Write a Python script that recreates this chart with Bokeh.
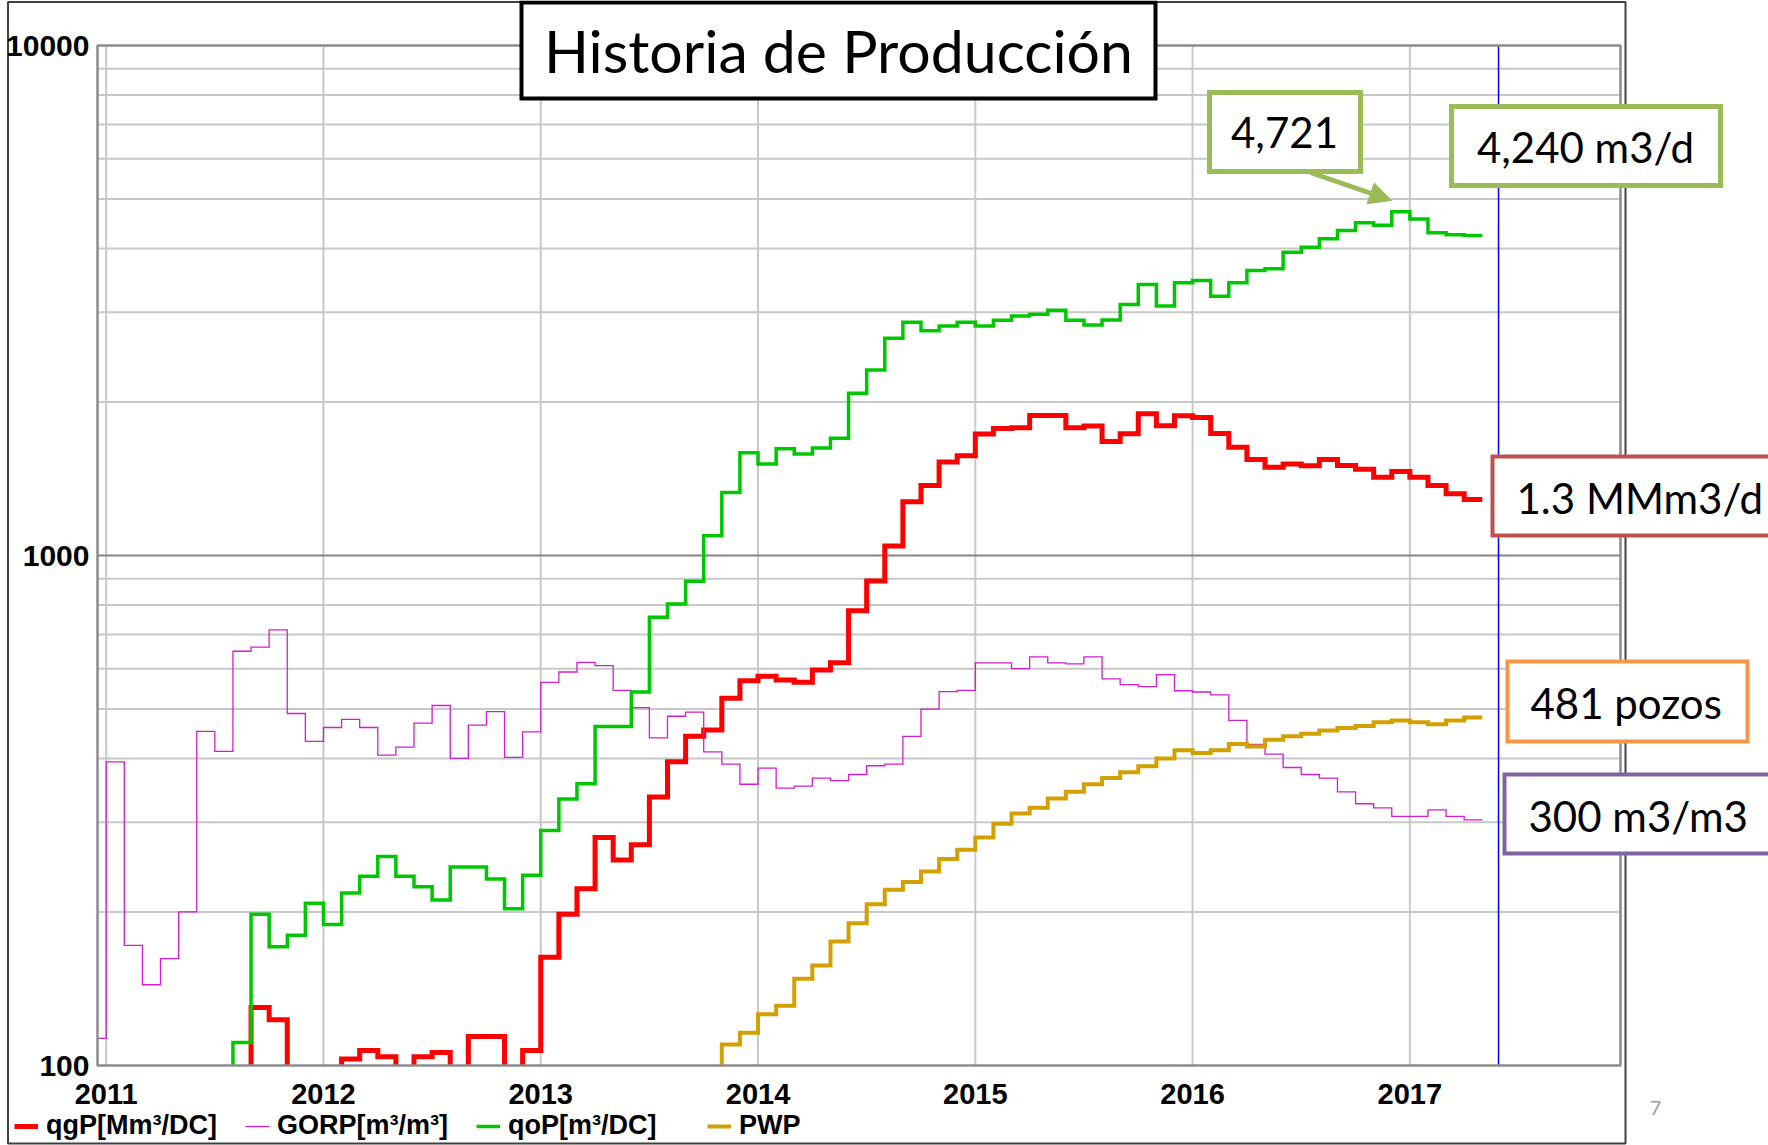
import pandas as pd
from bokeh.plotting import figure
from bokeh.models import (Range1d, FixedTicker, Label, BoxAnnotation, Arrow, NormalHead,
                          Legend, LegendItem, PrintfTickFormatter, LinearAxis, LogAxis)
from bokeh.embed import file_html
from bokeh.resources import INLINE

# ---------------- data (monthly, Dec-2010 .. Apr-2017) ----------------
months = pd.date_range("2010-12-01", "2017-04-01", freq="MS")
nan = float("nan")

# GORP [m3/m3]
gorp = [113,
        394, 172, 144, 162, 200, 452, 413, 649, 661, 715, 490, 432,
        460, 477, 460, 406, 421, 469, 508, 400, 465, 494, 402, 451,
        564, 591, 617, 608, 544, 503, 439, 484, 493, 412, 390, 356,
        383, 350, 353, 366, 362, 372, 387, 390, 442, 500, 541, 544,
        616, 616, 600, 633, 616, 613, 633, 573, 558, 553, 584, 543,
        540, 533, 475, 426, 408, 384, 372, 366, 344, 326, 320, 308,
        308, 317, 308, 303]

# qgP [Mm3/DC]  (values under 100 fall below the chart)
qgp = [nan,
       nan, nan, nan, nan, nan, nan, nan, 60, 130, 123, 60, 60,
       60, 103, 107, 104, 60, 104, 106, 60, 114, 114, 60, 107,
       163, 198, 222, 280, 253, 271, 336, 394, 442, 455, 525, 568,
       580, 570, 564, 596, 616, 779, 891, 1044, 1275, 1371, 1526, 1568,
       1731, 1774, 1780, 1881, 1881, 1780, 1795, 1673, 1732, 1896, 1796, 1879,
       1865, 1734, 1631, 1542, 1489, 1512, 1500, 1542, 1502, 1476, 1424, 1461,
       1424, 1371, 1321, 1288]

# qoP [m3/DC]
qop = [nan,
       nan, nan, nan, nan, nan, nan, 60, 111, 198, 171, 180, 208,
       189, 218, 235, 257, 235, 224, 211, 245, 245, 232, 203, 236,
       289, 333, 357, 462, 462, 540, 757, 803, 890, 1093, 1329, 1591,
       1512, 1620, 1582, 1624, 1698, 2080, 2310, 2667, 2867, 2760, 2818, 2867,
       2818, 2891, 2947, 2972, 3026, 2891, 2830, 2895, 3105, 3400, 3083, 3425,
       3461, 3225, 3425, 3622, 3648, 3933, 4023, 4178, 4337, 4490, 4441, 4721,
       4571, 4292, 4254, 4240]

# PWP (producing wells)
pwp = [nan,
       nan, nan, nan, nan, nan, nan, nan, nan, nan, nan, nan, nan,
       nan, nan, nan, nan, nan, nan, nan, nan, nan, nan, nan, nan,
       nan, nan, nan, nan, nan, nan, nan, nan, nan, 60, 110, 116,
       126, 131, 148, 157, 175, 190, 207, 221, 229, 240, 254, 265,
       280, 298, 312, 320, 334, 344, 356, 366, 376, 386, 400, 415,
       410, 415, 427, 422, 435, 442, 447, 454, 459, 463, 471, 475,
       471, 467, 475, 481]

series_labels = ["qgP[Mm³/DC]", "GORP[m³/m³]", "qoP[m³/DC]", "PWP"]
series_colors = ["#FF0000", "#D21ED2", "#00C800", "#D4A000"]
series_widths = [5, 1.3, 3.5, 4]

year_ticks = [2011, 2012, 2013, 2014, 2015, 2016, 2017]
y_major = [100, 1000, 10000]
y_minor = [200, 300, 400, 500, 600, 700, 800, 900,
           2000, 3000, 4000, 5000, 6000, 7000, 8000, 9000]
current_date = 2017.408

title_text = "Historia de Producción"
callouts = ["4,721", "4,240 m3/d", "1.3 MMm3/d", "481 pozos", "300 m3/m3"]

# ---------------- geometry (canvas pixels) ----------------
CW, CH = 1768, 1145
PL, PR, PT, PB = 97, 1620, 45, 1065          # plot area
X0, YLO, YHI = 2010.96, 100, 10000
X1 = X0 + (PR - PL) / 217.28


def px2x(px):
    return X0 + (px - PL) * (X1 - X0) / (PR - PL)


def py2y(py):
    return 10 ** (4 - (py - PT) * 2.0 / (PB - PT))


t = list(months.year + (months.month - 1) / 12.0)
t_end = t[-1] + 1 / 12.0

p = figure(width=CW, height=CH, x_range=Range1d(px2x(0), px2x(CW)),
           y_range=Range1d(py2y(CH), py2y(0)), y_axis_type="log",
           x_axis_location=None, y_axis_location=None,
           output_backend="svg", toolbar_location=None, min_border=0)
p.background_fill_color = "white"
p.border_fill_color = "white"
p.outline_line_color = None
for g in p.grid:
    g.visible = False

# grid lines of the plot area
p.segment(x0=year_ticks, x1=year_ticks, y0=[YLO] * len(year_ticks), y1=[YHI] * len(year_ticks),
          line_color="#C8C8C8", line_width=2)
p.segment(x0=[X0] * len(y_minor), x1=[X1] * len(y_minor), y0=y_minor, y1=y_minor,
          line_color="#C8C8C8", line_width=2)
p.segment(x0=[X0], x1=[X1], y0=[1000], y1=[1000], line_color="#858585", line_width=2)

# series (monthly steps)
renderers = []
for vals, col, lw in zip([qgp, gorp, qop, pwp], series_colors, series_widths):
    xs, ys = [], []
    for ti, v in zip(t, vals):
        if v == v:
            xs.append(ti)
            ys.append(v)
    xs.append(t_end)
    ys.append(ys[-1])
    r = p.step(xs, ys, mode="after", line_color=col, line_width=lw, line_join="miter")
    renderers.append(r)

# current-date line
p.segment(x0=[current_date], x1=[current_date], y0=[YLO], y1=[YHI], line_color="#0000FF", line_width=1.5)

# white masks outside the plot area (the chart clips its curves there)
p.quad(left=[px2x(-20)], right=[px2x(CW + 20)], bottom=[py2y(CH + 50)], top=[YLO],
       fill_color="white", line_color=None)
p.quad(left=[px2x(-20)], right=[X0], bottom=[py2y(CH + 50)], top=[py2y(-50)],
       fill_color="white", line_color=None)

# plot-area border and outer picture frame
p.quad(left=[X0], right=[X1], bottom=[YLO], top=[YHI], fill_color=None,
       line_color="#8C8C8C", line_width=2.5)
p.quad(left=[px2x(7.5)], right=[px2x(1625)], bottom=[py2y(1143)], top=[py2y(1.5)],
       fill_color=None, line_color="#404040", line_width=2)

# axes at the plot-area edges
yaxis = LogAxis(fixed_location=X0, ticker=FixedTicker(ticks=y_major, minor_ticks=[]),
                formatter=PrintfTickFormatter(format="%d"))
xaxis = LinearAxis(fixed_location=YLO, ticker=FixedTicker(ticks=year_ticks, minor_ticks=[]),
                   formatter=PrintfTickFormatter(format="%d"))
for ax in (xaxis, yaxis):
    ax.axis_line_color = None
    ax.major_tick_line_color = None
    ax.minor_tick_line_color = None
    ax.major_label_text_font = "Liberation Sans"
    ax.major_label_text_font_style = "bold"
    ax.major_label_text_color = "black"
xaxis.major_label_text_font_size = "29px"
yaxis.major_label_text_font_size = "30px"
xaxis.major_label_standoff = 12
yaxis.major_label_standoff = 2
p.add_layout(yaxis, "left")
p.add_layout(xaxis, "below")

# callout boxes
boxes = [
    # (left, right, top, bottom, color, width)
    (521, 1155, 2, 98, "black", 4),
    (1209, 1360, 92, 171, "#9BBB59", 5),
    (1451, 1720, 106, 185, "#9BBB59", 5),
    (1492, 1800, 456, 535, "#C0504D", 4),
    (1507, 1747, 661, 741, "#F79646", 4),
    (1504, 1800, 774, 853, "#8064A2", 4),
]
for l, r_, tp, bt, col, w in boxes:
    p.add_layout(BoxAnnotation(left=px2x(l), right=px2x(r_), top=py2y(tp), bottom=py2y(bt),
                               fill_color="white", fill_alpha=1, line_color=col,
                               line_alpha=1, line_width=w, line_join="miter"))

p.add_layout(Arrow(end=NormalHead(size=22, fill_color="#9BBB59", line_color="#9BBB59"),
                   x_start=px2x(1310), y_start=py2y(172), x_end=px2x(1391), y_end=py2y(200),
                   line_color="#9BBB59", line_width=5))

texts = [
    (title_text, 838, 50, "center", "59px"),
    (callouts[0], 1284, 132, "center", "42px"),
    (callouts[1], 1585, 146, "center", "42px"),
    (callouts[2], 1516, 497, "left", "42px"),
    (callouts[3], 1530, 702, "left", "42px"),
    (callouts[4], 1528, 815, "left", "42px"),
]
for txt, x, y, al, fs in texts:
    p.add_layout(Label(x=px2x(x), y=py2y(y), text=txt, text_align=al, text_baseline="middle",
                       text_font="Lato", text_font_size=fs, text_color="black"))

p.add_layout(Label(x=px2x(1655), y=py2y(1107), text="7", text_align="center",
                   text_baseline="middle", text_font="Lato", text_font_size="20px",
                   text_color="#A0A0A0"))

legend = Legend(items=[LegendItem(label=lab, renderers=[r]) for lab, r in zip(series_labels, renderers)],
                orientation="horizontal", location=(14, 4),
                glyph_width=24, glyph_height=24, label_height=24, label_width=199,
                label_standoff=8, spacing=0, padding=0, margin=0,
                border_line_color=None, background_fill_alpha=0,
                label_text_font="Liberation Sans", label_text_font_style="bold",
                label_text_font_size="27px", label_text_color="black")
p.add_layout(legend)

open("out.html", "w").write(file_html(p, INLINE))
